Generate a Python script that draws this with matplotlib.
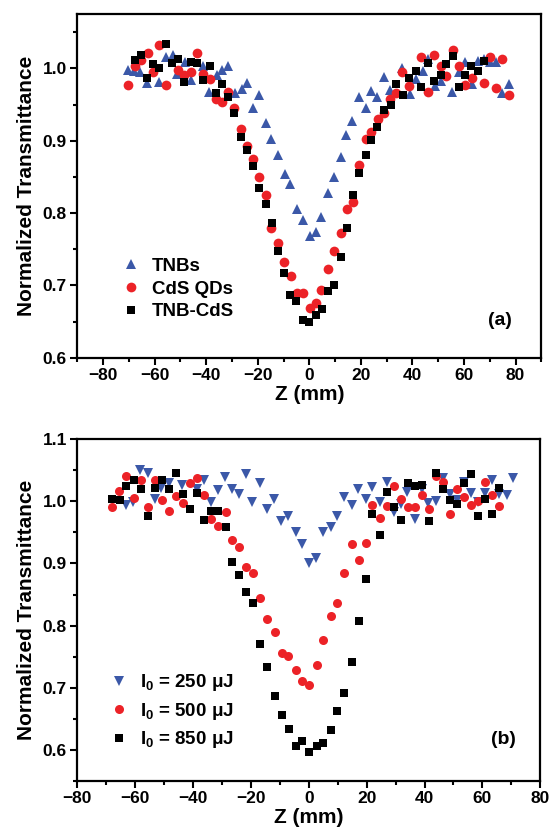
import numpy as np
from matplotlib import pyplot as plt
from matplotlib.ticker import MultipleLocator

plt.rcParams['font.family'] = ['Liberation Sans', 'DejaVu Sans']
plt.rcParams['font.weight'] = 'bold'
plt.rcParams['mathtext.fontset'] = 'custom'
plt.rcParams['mathtext.bf'] = 'Liberation Sans:bold'
plt.rcParams['mathtext.rm'] = 'Liberation Sans:bold'
plt.rcParams['mathtext.default'] = 'bf'

BLUE = '#3b58a8'
RED = '#ec2227'

# (a) TNBs / CdS QDs / TNB-CdS
z_tnb = [-70.2, -68.0, -65.7, -62.9, -58.3, -55.6, -53.0, -51.5, -48.3, -46.0, -41.2, -39.0,
         -36.0, -33.8, -31.5, -28.9, -26.3, -24.1, -22.0, -19.5, -17.0, -14.9, -12.1, -9.5,
         -7.6, -4.7, -2.4, 0.2, 2.5, 4.7, 7.3, 9.6, 12.1, 14.4, 16.7, 19.3, 21.8, 24.1, 26.4,
         29.0, 31.2, 36.1, 39.0, 41.3, 43.9, 46.0, 48.6, 51.0, 55.5, 57.9, 60.5, 63.1, 65.4,
         67.6, 70.2, 72.6, 74.9, 77.3]
t_tnb = [0.998, 0.997, 0.995, 0.980, 0.982, 1.016, 1.018, 0.993, 1.009, 0.984, 1.004, 0.968,
         0.991, 0.998, 1.004, 0.966, 0.971, 0.980, 0.946, 0.963, 0.924, 0.903, 0.881, 0.854,
         0.840, 0.806, 0.790, 0.768, 0.774, 0.795, 0.828, 0.850, 0.878, 0.908, 0.928, 0.960,
         0.945, 0.969, 0.960, 0.988, 0.970, 1.000, 0.965, 0.986, 0.996, 1.013, 0.976, 0.983,
         0.968, 0.995, 1.009, 0.979, 1.011, 1.013, 1.009, 1.009, 0.966, 0.978]

z_cds = [-70.2, -67.6, -65.3, -62.7, -60.5, -58.2, -55.6, -50.8, -48.5, -45.9, -43.7, -41.2,
         -38.6, -36.4, -33.8, -31.5, -29.1, -26.6, -24.1, -22.0, -19.5, -17.0, -14.7, -12.1,
         -9.8, -7.2, -4.8, -2.4, 0.2, 2.5, 4.7, 7.3, 9.6, 12.1, 14.6, 17.0, 19.3, 21.8, 24.1,
         26.7, 29.0, 31.2, 33.8, 36.1, 38.7, 43.5, 46.0, 48.4, 50.9, 53.2, 55.7, 58.1, 60.5,
         63.1, 67.8, 70.2, 72.6, 74.9, 77.3]
t_cds = [0.977, 1.003, 1.012, 1.021, 0.995, 1.032, 0.977, 0.998, 0.991, 0.995, 1.021, 0.993,
         0.986, 0.958, 0.954, 0.967, 0.946, 0.917, 0.893, 0.875, 0.850, 0.825, 0.780, 0.759,
         0.733, 0.713, 0.690, 0.689, 0.669, 0.676, 0.694, 0.723, 0.747, 0.773, 0.806, 0.816,
         0.866, 0.902, 0.912, 0.930, 0.939, 0.958, 0.966, 0.995, 0.976, 1.016, 0.968, 1.019,
         1.004, 0.990, 1.026, 1.003, 0.977, 0.987, 0.980, 1.016, 0.973, 1.013, 0.964]

z_hyb = [-67.6, -65.3, -62.9, -60.5, -58.2, -55.6, -53.2, -50.8, -48.5, -45.9, -43.7, -41.2,
         -38.6, -36.2, -33.8, -31.5, -29.1, -26.6, -24.1, -21.8, -19.5, -17.0, -14.5, -12.1,
         -9.8, -7.4, -5.0, -2.4, -0.1, 2.5, 4.8, 7.3, 9.7, 12.1, 14.5, 17.0, 19.3, 21.8, 24.1,
         26.4, 29.0, 31.5, 33.8, 36.4, 38.7, 41.3, 43.5, 46.0, 48.4, 51.0, 53.2, 55.7, 58.1,
         60.5, 62.9, 65.4, 67.8]
t_hyb = [1.012, 1.019, 0.987, 1.006, 1.000, 1.034, 1.008, 1.013, 0.981, 1.009, 1.008, 0.984,
         1.004, 0.966, 0.979, 0.960, 0.939, 0.905, 0.888, 0.865, 0.835, 0.812, 0.787, 0.747,
         0.717, 0.687, 0.678, 0.652, 0.650, 0.659, 0.668, 0.692, 0.700, 0.740, 0.779, 0.825,
         0.855, 0.881, 0.901, 0.919, 0.942, 0.949, 0.978, 0.963, 0.987, 0.997, 0.975, 1.008,
         0.983, 0.991, 1.006, 1.017, 0.974, 0.991, 1.003, 0.996, 1.010]

# (b) TNB-CdS at three pulse energies
z_250 = [-63.1, -60.8, -58.2, -55.6, -53.3, -51.0, -48.3, -43.7, -38.6, -36.3, -33.7, -31.4,
         -29.1, -26.5, -24.1, -21.8, -19.5, -17.0, -14.4, -12.0, -9.7, -7.2, -4.6, -2.2, 0.1,
         2.4, 4.9, 7.5, 9.8, 12.2, 14.8, 17.1, 19.6, 22.0, 24.6, 27.1, 29.4, 31.7, 34.0, 36.7,
         39.0, 41.3, 43.9, 46.5, 48.8, 51.3, 53.7, 56.1, 58.6, 60.9, 63.4, 65.8, 68.4, 70.7]
t_250 = [0.994, 0.999, 1.051, 1.046, 1.004, 1.022, 1.030, 1.026, 1.020, 1.035, 0.999, 1.018,
         1.039, 1.020, 1.012, 1.044, 0.999, 1.029, 0.988, 1.003, 0.969, 0.976, 0.950, 0.932,
         0.900, 0.908, 0.950, 0.958, 0.976, 1.007, 0.994, 1.020, 1.004, 1.023, 0.999, 1.031,
         0.983, 0.996, 1.015, 0.971, 1.019, 0.997, 1.000, 1.037, 1.012, 1.002, 1.031, 1.013,
         0.999, 1.013, 1.034, 1.012, 1.010, 1.037]

z_500 = [-67.9, -65.6, -63.1, -60.6, -57.9, -55.6, -53.3, -50.8, -48.3, -46.0, -43.5, -41.2,
         -38.6, -36.2, -33.7, -31.4, -28.8, -26.5, -24.1, -21.6, -19.3, -16.8, -14.3, -11.8,
         -9.4, -7.2, -4.6, -2.2, 0.2, 2.7, 4.9, 7.5, 9.9, 12.2, 14.8, 17.3, 19.6, 22.0, 24.6,
         26.9, 29.4, 31.8, 34.2, 36.7, 39.2, 41.6, 43.9, 46.5, 48.8, 51.3, 53.6, 56.1, 58.6,
         60.9, 63.4, 65.8]
t_500 = [0.990, 1.017, 1.040, 1.006, 1.035, 0.990, 1.035, 1.002, 0.985, 1.008, 0.997, 1.029,
         1.037, 1.010, 0.972, 0.961, 0.982, 0.938, 0.927, 0.895, 0.885, 0.844, 0.810, 0.790,
         0.756, 0.751, 0.728, 0.711, 0.704, 0.736, 0.777, 0.815, 0.836, 0.885, 0.932, 0.905,
         0.933, 0.994, 0.973, 0.992, 1.024, 1.003, 0.991, 0.991, 1.010, 0.987, 1.040, 1.031,
         0.979, 1.020, 1.007, 0.994, 1.000, 1.031, 1.010, 0.992]

z_850 = [-67.9, -65.4, -63.1, -60.6, -58.1, -55.6, -53.3, -50.8, -48.3, -45.8, -43.5, -41.2,
         -38.6, -36.3, -33.9, -31.4, -28.8, -26.5, -24.1, -21.6, -19.3, -16.8, -14.3, -11.8,
         -9.4, -6.9, -4.6, -2.2, 0.1, 2.7, 4.9, 7.5, 9.9, 12.2, 14.8, 17.3, 19.6, 22.0, 24.6,
         26.9, 29.4, 31.8, 34.2, 36.7, 39.0, 41.6, 43.9, 46.3, 48.8, 51.3, 53.6, 56.1, 58.6,
         60.9, 63.4, 65.8]
t_850 = [1.004, 1.002, 1.024, 1.035, 1.019, 0.977, 1.022, 1.034, 1.020, 1.046, 1.011, 0.987,
         1.014, 0.970, 0.984, 0.984, 0.959, 0.903, 0.882, 0.854, 0.836, 0.771, 0.734, 0.687,
         0.656, 0.634, 0.606, 0.614, 0.596, 0.606, 0.611, 0.632, 0.663, 0.691, 0.741, 0.808,
         0.875, 0.979, 0.945, 1.015, 0.990, 0.970, 1.029, 1.024, 1.026, 0.968, 1.046, 1.019,
         1.002, 0.995, 1.030, 1.044, 0.976, 1.004, 0.980, 1.021]


def style_axes(ax):
    for sp in ax.spines.values():
        sp.set_linewidth(1.6)
    ax.tick_params(which='both', direction='out', width=1.5, labelsize=12.5, pad=2.5)
    ax.tick_params(which='major', length=5)
    ax.tick_params(which='minor', length=3)
    ax.xaxis.set_major_locator(MultipleLocator(20))
    ax.xaxis.set_minor_locator(MultipleLocator(10))
    ax.yaxis.set_major_locator(MultipleLocator(0.1))
    ax.yaxis.set_minor_locator(MultipleLocator(0.05))
    ax.yaxis.set_major_formatter(plt.FormatStrFormatter('%.1f'))
    ax.set_xlabel('Z (mm)', fontsize=15, fontweight='bold', labelpad=1)
    ax.set_ylabel('Normalized Transmittance', fontsize=15, fontweight='bold', labelpad=5)


fig = plt.figure(figsize=(5.49, 8.38), dpi=100)
ax1 = fig.add_axes([0.141, 0.573, 0.845, 0.410])
ax2 = fig.add_axes([0.141, 0.068, 0.843, 0.408])

ax1.plot(z_tnb, t_tnb, '^', color=BLUE, ms=7.5, mew=0, label='TNBs')
ax1.plot(z_cds, t_cds, 'o', color=RED, ms=7, mew=0, label='CdS QDs')
ax1.plot(z_hyb, t_hyb, 's', color='black', ms=6.3, mew=0, label='TNB-CdS')
ax1.set_xlim(-90, 90)
ax1.set_ylim(0.6, 1.075)
style_axes(ax1)
ax1.legend(loc='lower left', bbox_to_anchor=(0.055, 0.06), frameon=False,
           prop={'weight': 'bold', 'size': 13.5}, handletextpad=0.5, labelspacing=0.3,
           handlelength=1.2)
ax1.text(0.91, 0.11, '(a)', transform=ax1.transAxes, ha='center', va='center',
         fontsize=14, fontweight='bold')

ax2.plot(z_250, t_250, 'v', color=BLUE, ms=7, mew=0, label=r'I$_0$ = 250 μJ')
ax2.plot(z_500, t_500, 'o', color=RED, ms=6.5, mew=0, label=r'I$_0$ = 500 μJ')
ax2.plot(z_850, t_850, 's', color='black', ms=5.8, mew=0, label=r'I$_0$ = 850 μJ')
ax2.set_xlim(-80, 80)
ax2.set_ylim(0.55, 1.1)
style_axes(ax2)
ax2.legend(loc='lower left', bbox_to_anchor=(0.03, 0.04), frameon=False,
           prop={'weight': 'bold', 'size': 13.5}, handletextpad=0.5, labelspacing=0.4,
           handlelength=1.2)
ax2.text(0.92, 0.12, '(b)', transform=ax2.transAxes, ha='center', va='center',
         fontsize=14, fontweight='bold')

fig.savefig('out.png', dpi=100)
